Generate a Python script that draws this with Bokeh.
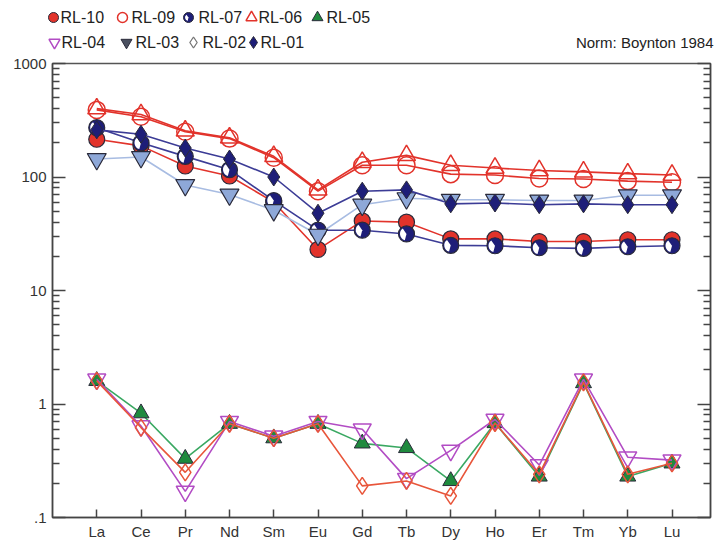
from bokeh.plotting import figure
from bokeh.layouts import column
from bokeh.models import (Range1d, LogAxis, LinearAxis, FixedTicker, CustomJSTickFormatter)
from bokeh.core.properties import value
from bokeh.embed import file_html
from bokeh.resources import INLINE
import math

elements = ["La", "Ce", "Pr", "Nd", "Sm", "Eu", "Gd", "Tb", "Dy", "Ho", "Er", "Tm", "Yb", "Lu"]

rl10 = [215, 188, 125, 102, 60, 23, 41, 40, 28.5, 28.5, 27, 27, 28, 28]
rl09 = [390, 340, 250, 218, 148, 75, 127, 127, 106, 104, 97, 96, 92, 90]
rl07 = [272, 200, 152, 116, 62, 34, 34, 31.5, 25, 24.8, 23.8, 23.5, 24.3, 24.8]
rl06 = [400, 355, 255, 222, 152, 77, 135, 155, 127, 120, 114, 111, 107, 104]
rl05 = [1.6, 0.83, 0.33, 0.67, 0.50, 0.67, 0.45, 0.41, 0.21, 0.68, 0.23, 1.53, 0.23, 0.30]
rl04 = [1.65, 0.64, 0.17, 0.70, 0.52, 0.70, 0.60, 0.22, 0.39, 0.73, 0.29, 1.65, 0.34, 0.32]
rl03 = [144, 150, 85, 70, 51, 31, 57, 65, 63, 63, 62, 62, 69, 69]
rl02 = [1.6, 0.62, 0.25, 0.67, 0.50, 0.67, 0.19, 0.21, 0.155, 0.68, 0.24, 1.55, 0.24, 0.30]
rl01 = [260, 238, 180, 144, 100, 48, 75, 77, 58, 59, 57, 58, 57, 57]

legend_names = ["RL-10", "RL-09", "RL-07", "RL-06", "RL-05", "RL-04", "RL-03", "RL-02", "RL-01"]
norm_note = "Norm: Boynton 1984"

y_ticks = [0.1, 1, 10, 100, 1000]

RED = "#e2332b"
NAVY = "#1e1e78"
NAVY_LINE = "#3c3c96"
LBLUE = "#8ea8d8"
LBLUE_LINE = "#a8bce2"
GREEN = "#1f8a3e"
GREEN_LINE = "#3aa862"
PURPLE = "#b24cc4"
ORANGE = "#e8553a"
EDGE = "#2a2a3a"
FONT = "Liberation Sans"

W = 715
HEAD_H = 56
MAIN_H = 548 - HEAD_H
xs = list(range(1, len(elements) + 1))

p = figure(width=W, height=MAIN_H, y_axis_type="log",
           x_range=Range1d(0, 14.87), y_range=Range1d(0.1, 1000),
           output_backend="svg", toolbar_location=None,
           min_border_left=52, min_border_right=5, min_border_top=7, min_border_bottom=31,
           x_axis_location=None, y_axis_location=None)
p.frame_align = False
p.grid.visible = False
p.outline_line_color = "#555555"
p.outline_line_width = 1.5
p.background_fill_color = "white"
p.border_fill_color = "white"

minor = [m * 10 ** e for e in range(-1, 3) for m in range(2, 10)]

def style_y(ax, labels=True):
    ax.ticker = FixedTicker(ticks=y_ticks, minor_ticks=minor)
    ax.major_tick_in = 13
    ax.major_tick_out = 0
    ax.minor_tick_in = 7
    ax.minor_tick_out = 0
    ax.axis_line_color = "#444444"
    ax.axis_line_width = 1.5
    ax.major_tick_line_color = "#444444"
    ax.major_tick_line_width = 1.5
    ax.minor_tick_line_color = "#444444"
    ax.minor_tick_line_width = 1.5
    if labels:
        ax.formatter = CustomJSTickFormatter(code="return tick < 0.5 ? '.1' : String(Math.round(tick));")
        ax.major_label_text_font = FONT
        ax.major_label_text_font_size = "15px"
        ax.major_label_text_color = "#333333"
        ax.major_label_standoff = 6
    else:
        ax.formatter = CustomJSTickFormatter(code="return '';")
        ax.major_label_standoff = 0
        ax.major_label_text_font_size = "1px"

ly = LogAxis()
style_y(ly)
p.add_layout(ly, "left")
ry = LogAxis()
style_y(ry, labels=False)
p.add_layout(ry, "right")

bx = LinearAxis()
bx.ticker = FixedTicker(ticks=xs, minor_ticks=[])
bx.formatter = CustomJSTickFormatter(args=dict(labels=elements),
                                     code="return labels[Math.round(tick) - 1] || '';")
bx.major_tick_in = 8
bx.major_tick_out = 0
bx.axis_line_color = "#444444"
bx.axis_line_width = 1.5
bx.major_tick_line_color = "#444444"
bx.major_tick_line_width = 1.5
bx.major_label_text_font = FONT
bx.major_label_text_font_size = "15px"
bx.major_label_text_color = "#333333"
bx.major_label_standoff = 5
p.add_layout(bx, "below")

def halfcircle(fig, x, y, size):
    fig.scatter(x, y, marker="circle", size=size, fill_color=NAVY, line_color=EDGE, line_width=1.2)
    fig.wedge(x, y, radius=size / 2 - 1.5, radius_units="screen",
              start_angle=math.radians(125), end_angle=math.radians(255),
              fill_color="white", line_color=None)

# RL-10
p.line(xs, rl10, line_color=RED, line_width=1.6)
p.scatter(xs, rl10, marker="circle", size=16, fill_color=RED, line_color=EDGE, line_width=1.2)
# RL-09
p.line(xs, rl09, line_color=RED, line_width=1.6)
p.scatter(xs, rl09, marker="circle", size=17, fill_color=None, line_color=RED, line_width=1.5)
# RL-07
p.line(xs, rl07, line_color=NAVY_LINE, line_width=1.6)
halfcircle(p, xs, rl07, 16)
# RL-06
p.line(xs, rl06, line_color=RED, line_width=1.6)
p.scatter(xs, rl06, marker="triangle", size=18, fill_color=None, line_color=RED, line_width=1.5)
# RL-05
p.line(xs, rl05, line_color=GREEN_LINE, line_width=1.6)
p.scatter(xs, rl05, marker="triangle", size=16, fill_color=GREEN, line_color=EDGE, line_width=1.0)
# RL-04
p.line(xs, rl04, line_color=PURPLE, line_width=1.6)
p.scatter(xs, rl04, marker="inverted_triangle", size=18, fill_color=None, line_color=PURPLE, line_width=1.5)
# RL-03
p.line(xs, rl03, line_color=LBLUE_LINE, line_width=1.6)
p.scatter(xs, rl03, marker="inverted_triangle", size=19, fill_color=LBLUE, line_color=EDGE, line_width=1.2)
# RL-02
p.line(xs, rl02, line_color=ORANGE, line_width=1.6)
p.scatter(xs, rl02, marker="diamond", size=17, fill_color=None, line_color=ORANGE, line_width=1.5)
# RL-01
p.line(xs, rl01, line_color=NAVY_LINE, line_width=1.6)
p.scatter(xs, rl01, marker="diamond", size=18, fill_color=NAVY, line_color=EDGE, line_width=1.0)

# ---------- header (legend + norm note); header data units == page pixels ----------
h = figure(width=W, height=HEAD_H, x_range=Range1d(0, W), y_range=Range1d(HEAD_H, 0),
           output_backend="svg", toolbar_location=None, min_border=0,
           x_axis_location=None, y_axis_location=None)
h.frame_align = False
h.grid.visible = False
h.outline_line_color = None

row1_y, row2_y = 17, 42
# (marker x, text x, row y)
mk = [(53, 60, row1_y), (122, 131, row1_y), (188, 198, row1_y), (251, 258, row1_y), (317, 326, row1_y),
      (54, 61, row2_y), (126, 135, row2_y), (193, 202, row2_y), (253, 260, row2_y)]

def hm(i, **kw):
    x, _, y = mk[i]
    h.scatter([x], [y], **kw)

hm(0, marker="circle", size=10, fill_color=RED, line_color=EDGE, line_width=1)
hm(1, marker="circle", size=10, fill_color=None, line_color=RED, line_width=1.5)
x2, _, y2 = mk[2]
h.scatter([x2], [y2], marker="circle", size=10, fill_color=NAVY, line_color=EDGE, line_width=1)
h.wedge([x2], [y2], radius=3.5, radius_units="screen", start_angle=math.radians(125),
        end_angle=math.radians(255), fill_color="white", line_color=None)
hm(3, marker="triangle", size=11, fill_color=None, line_color=RED, line_width=1.5)
hm(4, marker="triangle", size=11, fill_color=GREEN, line_color=EDGE, line_width=1)
hm(5, marker="inverted_triangle", size=11, fill_color=None, line_color=PURPLE, line_width=1.5)
hm(6, marker="inverted_triangle", size=11, fill_color="#4a5060", line_color=EDGE, line_width=1)
hm(7, marker="diamond", size=11, fill_color=None, line_color="#777777", line_width=1.3)
hm(8, marker="diamond", size=12, fill_color=NAVY, line_color=EDGE, line_width=1)

h.text(x=[m[1] for m in mk], y=[m[2] for m in mk], text=legend_names,
       text_font=value(FONT), text_font_size="16px", text_color="#222222",
       text_baseline="middle", text_align="left")
h.text(x=[W - 2], y=[row2_y], text=[norm_note],
       text_font=value(FONT), text_font_size="15px", text_color="#222222",
       text_baseline="middle", text_align="right")

layout = column(h, p, spacing=0)
open("out.html", "w").write(file_html(layout, INLINE))
